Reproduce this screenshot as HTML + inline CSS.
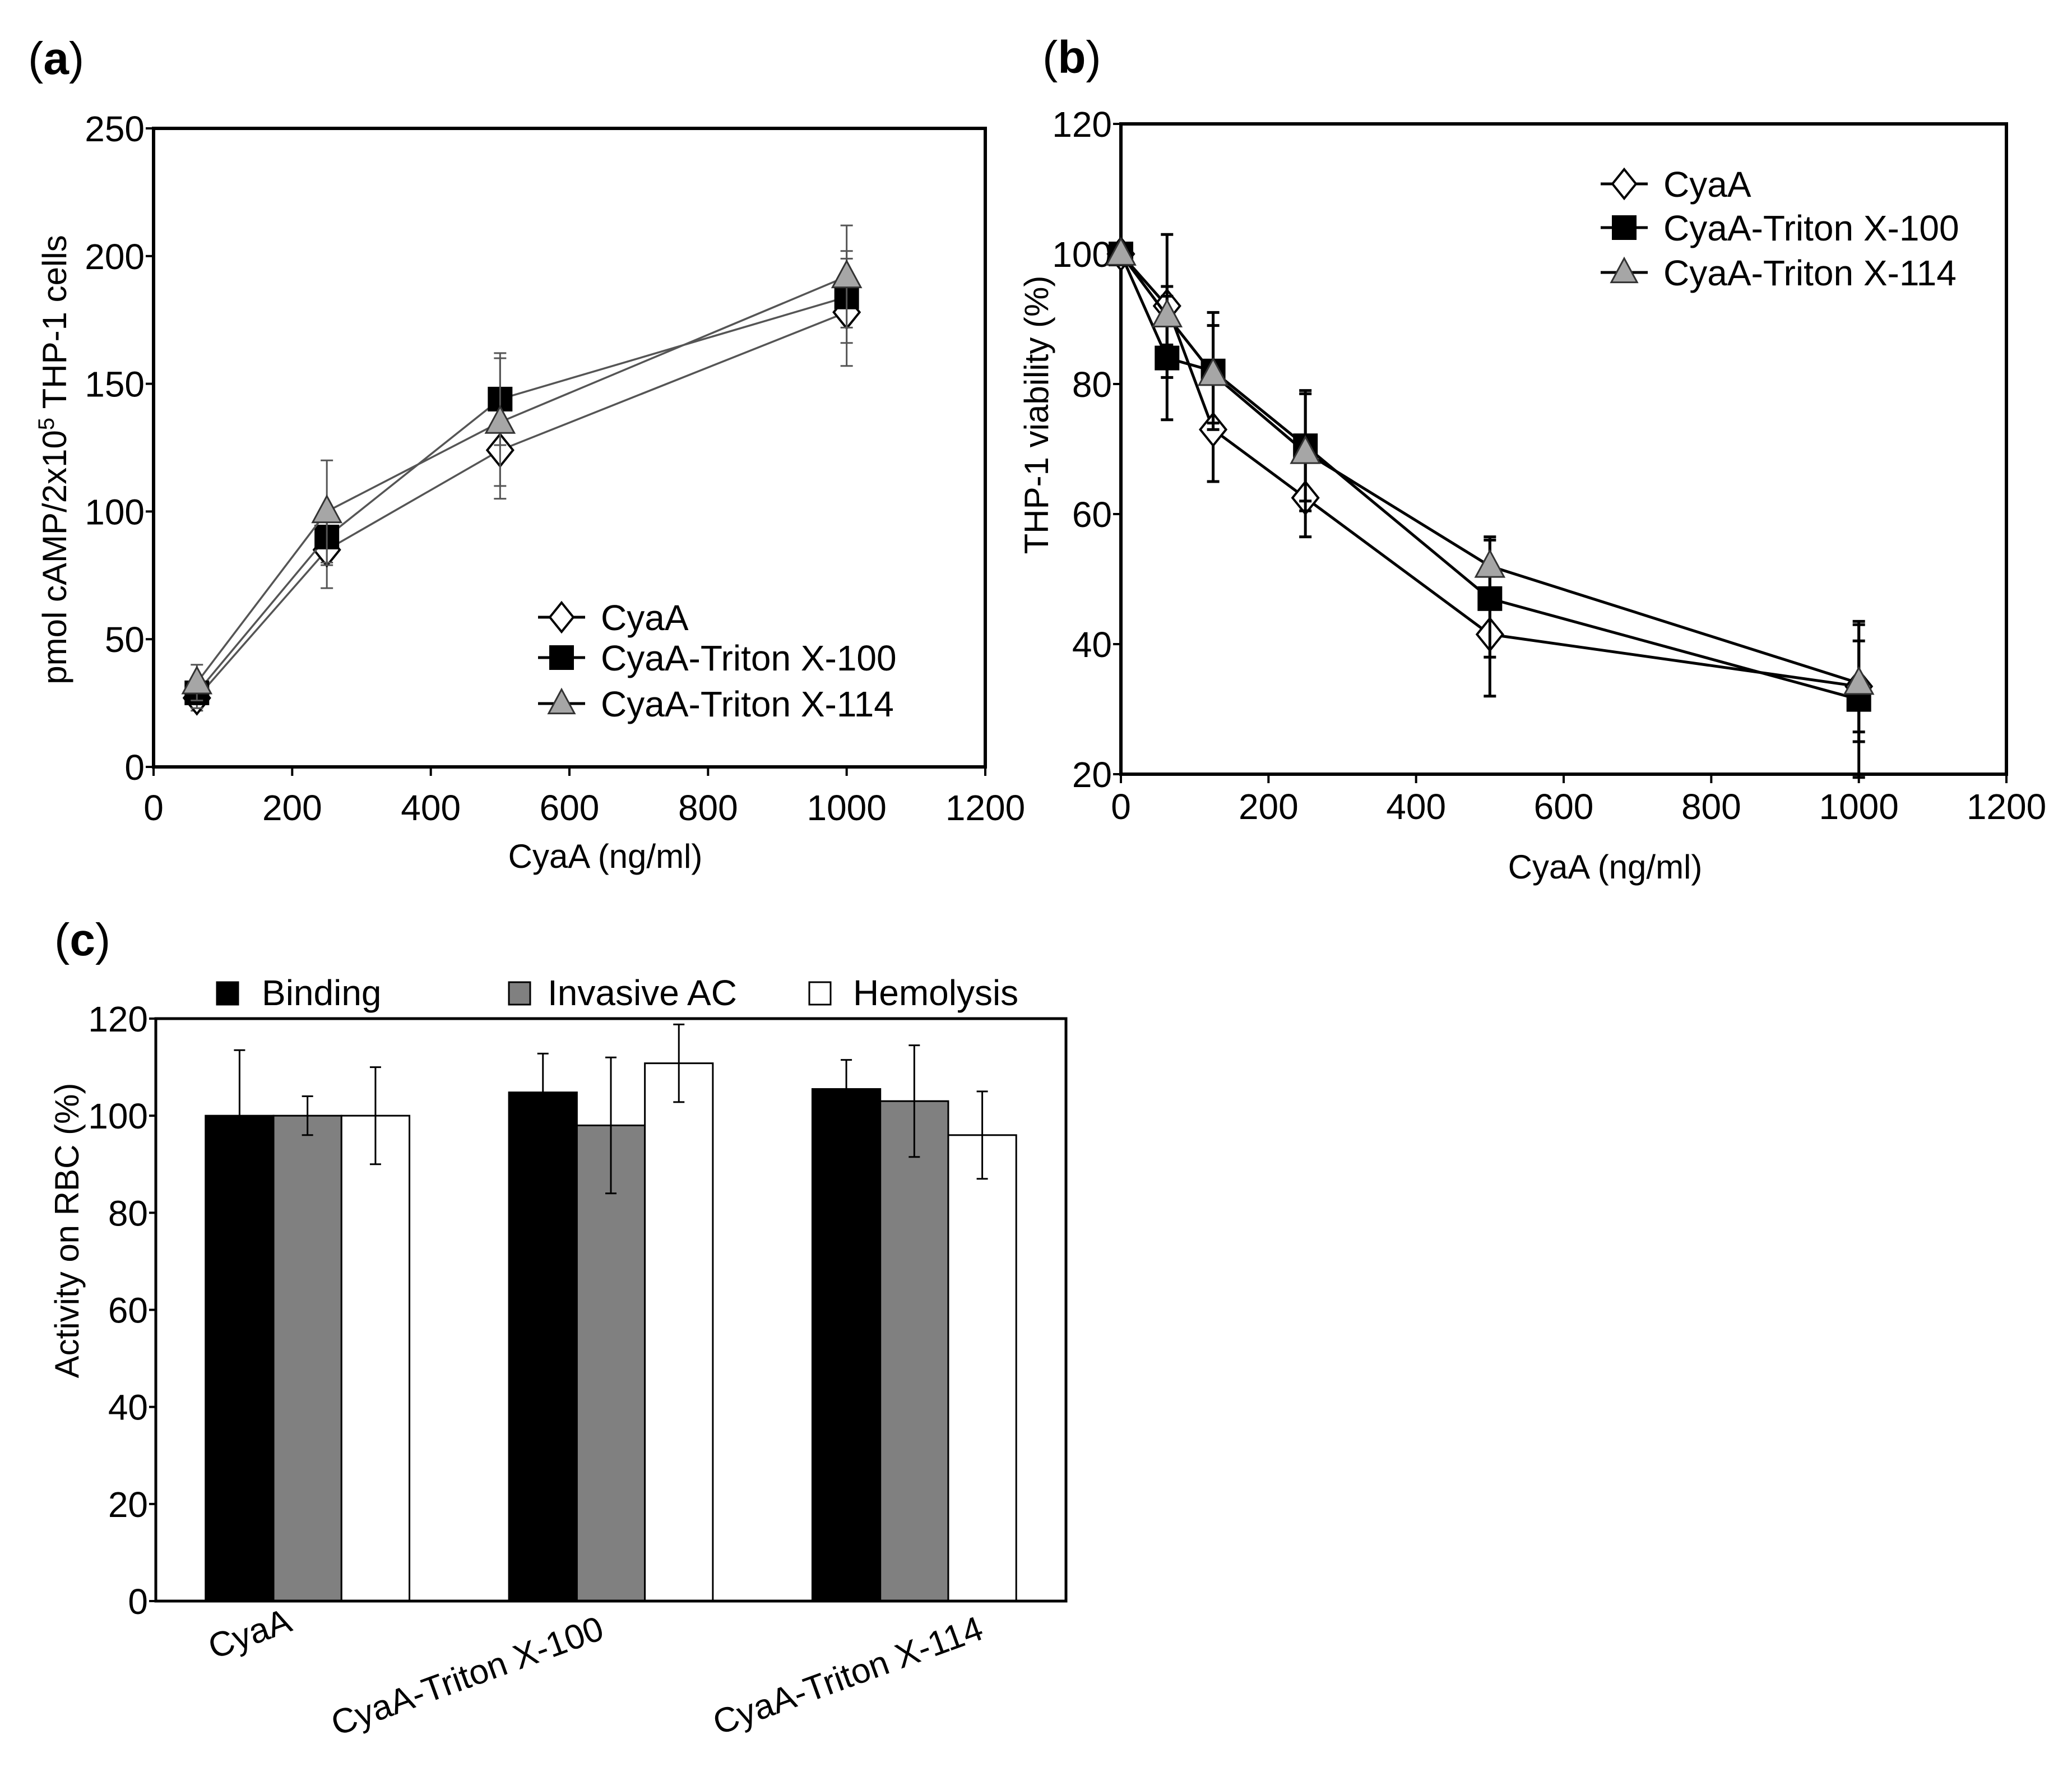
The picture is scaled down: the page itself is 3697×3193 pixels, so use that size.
<!DOCTYPE html>
<html><head><meta charset="utf-8">
<style>html,body{margin:0;padding:0;background:#fff}svg{display:block}text{font-family:"Liberation Sans",Arial,sans-serif;fill:#000}</style>
</head><body>
<svg id="fig" width="3697" height="3193" viewBox="0 0 3697 3193" xmlns="http://www.w3.org/2000/svg">
<rect width="3697" height="3193" fill="#fff"/>
<g id="pa"></g>
<g id="pb"></g>
<g id="pc"></g>
</svg>
<script>
// Panel a data
const aX = [62.5, 250, 500, 1000];
const aCyaA = [27, 85, 124, 178];
const aCyaAErr = [5, 15, 19, 21];
const aTX100 = [29, 90, 144, 184];
const aTX100Err = [6, 11, 18, 18];
const aTX114 = [33, 100, 135, 192];
const aTX114Err = [7, 20, 25, 20];
const aXTicks = [0, 200, 400, 600, 800, 1000, 1200];
const aYTicks = [0, 50, 100, 150, 200, 250];
// Panel b data
const bX = [0, 62.5, 125, 250, 500, 1000];
const bCyaA = [100, 92, 73, 62.5, 41.5, 33.5];
const bCyaAErr = [0, 11, 8, 6, 9.5, 7];
const bTX100 = [100, 84, 82, 70.5, 47, 31.5];
const bTX100Err = [0, 9.5, 9, 8.5, 9, 12];
const bTX114 = [100, 90.5, 81.5, 69.5, 52, 34];
const bTX114Err = [0, 4.5, 7.5, 9, 4.5, 9];
const bXTicks = [0, 200, 400, 600, 800, 1000, 1200];
const bYTicks = [20, 40, 60, 80, 100, 120];
// Panel c data
const cCats = ["CyaA", "CyaA-Triton X-100", "CyaA-Triton X-114"];
const cBinding = [100, 104.8, 105.5];
const cBindingErr = [13.5, 8, 6];
const cInvasive = [100, 98, 103];
const cInvasiveErr = [4, 14, 11.5];
const cHemolysis = [100, 110.8, 96];
const cHemolysisErr = [10, 8, 9];
const cYTicks = [0, 20, 40, 60, 80, 100, 120];

const NS = "http://www.w3.org/2000/svg";
function mk(parent, tag, attrs, txt) {
  const e = document.createElementNS(NS, tag);
  for (const k in attrs) e.setAttribute(k, attrs[k]);
  if (txt !== undefined) e.textContent = txt;
  parent.appendChild(e);
  return e;
}
function scale(d0, d1, r0, r1) { return v => r0 + (v - d0) / (d1 - d0) * (r1 - r0); }

function marker(g, type, x, y, s, name) {
  let e;
  if (type === 'diamond') {
    e = mk(g, 'polygon', {points: `${x},${y-s*0.62} ${x+s*0.5},${y} ${x},${y+s*0.62} ${x-s*0.5},${y}`, fill: '#fff', stroke: '#000', 'stroke-width': 4});
  } else if (type === 'square') {
    e = mk(g, 'rect', {x: x - s/2, y: y - s/2, width: s, height: s, fill: '#000'});
  } else {
    e = mk(g, 'polygon', {points: `${x},${y-s*0.6} ${x+s*0.55},${y+s*0.42} ${x-s*0.55},${y+s*0.42}`, fill: '#a6a6a6', stroke: '#333', 'stroke-width': 3});
  }
  
  
  return e;
}

function linePanel(g, o) {
  const sx = scale(0, 1200, o.L, o.R), sy = scale(o.y0, o.y1, o.B, o.T);
  const fs = 64;
  // y label
  const yl = mk(g, 'text', {x: 0, y: 0, 'font-size': 60, 'text-anchor': 'middle', transform: `translate(${o.ylx},${o.yly}) rotate(-90)`});
  
  
  if (o.ytitleHTML) { o.ytitleHTML(yl); } else { yl.textContent = o.ytitle; }
  const xl = mk(g, 'text', {x: o.xlx, y: o.xly, 'font-size': 60, 'text-anchor': 'middle'}, 'CyaA (ng/ml)');
  
  
  // ticks
  o.xt.forEach(t => {
    const x = sx(t);
    const tk = mk(g, 'line', {x1: x, x2: x, y1: o.B, y2: o.B + 16, stroke: '#000', 'stroke-width': 4});
    
    
    const tl = mk(g, 'text', {x: x, y: o.B + o.xtdy, 'font-size': fs, 'text-anchor': 'middle'}, String(t));
    
    
  });
  o.yt.forEach(t => {
    const y = sy(t);
    const tk = mk(g, 'line', {x1: o.L - 14, x2: o.L, y1: y, y2: y, stroke: '#000', 'stroke-width': 4});
    
    
    const tl = mk(g, 'text', {x: o.L - 16, y: y + 23, 'font-size': fs, 'text-anchor': 'end'}, String(t));
    
    
  });
  const fr = mk(g, 'rect', {x: o.L, y: o.T, width: o.R - o.L, height: o.B - o.T, fill: 'none', stroke: '#000', 'stroke-width': 6});
  
  
  // series
  o.series.forEach(s => {
    const sg = mk(g, 'g', {});
    
    
    s.vals.forEach((v, i) => {
      const x = sx(o.xs[i]);
      if (s.err[i] > 0) {
        const e = mk(sg, 'path', {d: `M${x},${sy(v - s.err[i])}V${sy(v + s.err[i])}M${x-11},${sy(v - s.err[i])}h22M${x-11},${sy(v + s.err[i])}h22`, stroke: o.errColor, 'stroke-width': o.errW, fill: 'none'});
        
        
      }
    });
    const pts = s.vals.map((v, i) => `${sx(o.xs[i])},${sy(v)}`).join(' ');
    const pl = mk(sg, 'polyline', {points: pts, fill: 'none', stroke: o.lineColor, 'stroke-width': o.lineW});
    
    
    s.vals.forEach((v, i) => marker(sg, s.type, sx(o.xs[i]), sy(v), s.type === 'square' ? 44 : 46, 'point-' + s.key));
  });
  // legend
  o.series.forEach((s, i) => {
    const y = o.legY[i];
    const lg = mk(g, 'g', {});
    
    
    const ln = mk(lg, 'line', {x1: o.legX, x2: o.legX + 84, y1: y, y2: y, stroke: '#000', 'stroke-width': 5});
    
    
    marker(lg, s.type, o.legX + 42, y, s.type === 'square' ? 44 : 42, 'legend-marker');
    const lt = mk(lg, 'text', {x: o.legX + 112, y: y + 23, 'font-size': 64}, s.label);
    
    
  });
  const pl = mk(g, 'text', {x: o.plx, y: o.ply, 'font-size': 82}, '(');
  
  
  const b = mk(pl, 'tspan', {'font-weight': 'bold'}, o.letter);
  mk(pl, 'tspan', {}, ')');
}

linePanel(document.getElementById('pa'), {
  L: 274, R: 1758, T: 229, B: 1368, y0: 0, y1: 250, xs: aX, xt: aXTicks, yt: aYTicks,
  ylx: 118, yly: 820, xlx: 1080, xly: 1548, xtdy: 95,
  ytitleHTML: (t) => { mk(t, 'tspan', {}, 'pmol cAMP/2x10'); mk(t, 'tspan', {'font-size': 40, dy: -22}, '5'); mk(t, 'tspan', {dy: 22}, ' THP-1 cells'); },
  lineColor: '#555', lineW: 3.5, errColor: '#555', errW: 3,
  series: [
    {key: 'cyaa', type: 'diamond', vals: aCyaA, err: aCyaAErr, label: 'CyaA'},
    {key: 'triton-x100', type: 'square', vals: aTX100, err: aTX100Err, label: 'CyaA-Triton X-100'},
    {key: 'triton-x114', type: 'triangle', vals: aTX114, err: aTX114Err, label: 'CyaA-Triton X-114'}
  ],
  legX: 960, legY: [1101, 1173, 1255], plx: 50, ply: 132, letter: 'a'
});
linePanel(document.getElementById('pb'), {
  L: 2000, R: 3580, T: 221, B: 1381, y0: 20, y1: 120, xs: bX, xt: bXTicks, yt: bYTicks,
  ylx: 1870, yly: 740, xlx: 2864, xly: 1567, xtdy: 80, ytitle: 'THP-1 viability (%)',
  lineColor: '#000', lineW: 5, errColor: '#000', errW: 5,
  series: [
    {key: 'cyaa', type: 'diamond', vals: bCyaA, err: bCyaAErr, label: 'CyaA'},
    {key: 'triton-x100', type: 'square', vals: bTX100, err: bTX100Err, label: 'CyaA-Triton X-100'},
    {key: 'triton-x114', type: 'triangle', vals: bTX114, err: bTX114Err, label: 'CyaA-Triton X-114'}
  ],
  legX: 2856, legY: [328, 406, 486], plx: 1860, ply: 130, letter: 'b'
});

// Panel c
(function(){
  const g = document.getElementById('pc');
  const L = 278, R = 1902, T = 1817, B = 2856;
  const sy = scale(0, 120, B, T);
  const band = (R - L) / cCats.length, bw = band * 0.224;
  const series = [
    {key: 'binding', vals: cBinding, err: cBindingErr, fill: '#000', label: 'Binding'},
    {key: 'invasive-ac', vals: cInvasive, err: cInvasiveErr, fill: '#808080', label: 'Invasive AC'},
    {key: 'hemolysis', vals: cHemolysis, err: cHemolysisErr, fill: '#fff', label: 'Hemolysis'}
  ];
  cYTicks.forEach(t => {
    const y = sy(t);
    const tk = mk(g, 'line', {x1: L - 12, x2: L, y1: y, y2: y, stroke: '#000', 'stroke-width': 4});
    
    
    const tl = mk(g, 'text', {x: L - 14, y: y + 23, 'font-size': 64, 'text-anchor': 'end'}, String(t));
    
    
  });
  cCats.forEach((c, ci) => {
    const cx = L + band * (ci + 0.5);
    series.forEach((s, si) => {
      const x = cx + (si - 1.5) * bw;
      const v = s.vals[ci];
      const r = mk(g, 'rect', {x: x, y: sy(v), width: bw, height: B - sy(v), fill: s.fill, stroke: '#000', 'stroke-width': 3});
      
      
      const ex = x + bw / 2;
      const e = mk(g, 'path', {d: `M${ex},${sy(v - s.err[ci])}V${sy(v + s.err[ci])}M${ex-10},${sy(v - s.err[ci])}h20M${ex-10},${sy(v + s.err[ci])}h20`, stroke: '#000', 'stroke-width': 3, fill: 'none'});
      
      
    });
    const ax = cx + (ci === 0 ? -24 : 0) + 0;
    const tl = mk(g, 'text', {x: 0, y: 0, 'font-size': 62, 'text-anchor': 'end', transform: `translate(${[524,1081,1758][ci]},${[2908,2922,2922][ci]}) rotate(-20)`}, c);
    
    
  });
  const fr = mk(g, 'rect', {x: L, y: T, width: R - L, height: B - T, fill: 'none', stroke: '#000', 'stroke-width': 5});
  
  
  const yl = mk(g, 'text', {x: 0, y: 0, 'font-size': 60, 'text-anchor': 'middle', transform: `translate(${140},${2195}) rotate(-90)`}, 'Activity on RBC (%)');
  
  
  const legXs = [406, 927, 1463], legTx = [467, 977, 1522];
  series.forEach((s, i) => {
    const lg = mk(g, 'g', {});
    
    
    const sq = mk(lg, 'rect', {x: legXs[i] - 19, y: 1752, width: 38, height: 40, fill: s.fill, stroke: '#000', 'stroke-width': 3});
    
    
    const lt = mk(lg, 'text', {x: legTx[i], y: 1793, 'font-size': 64}, s.label);
    
    
  });
  const pl = mk(g, 'text', {x: 97, y: 1704, 'font-size': 82}, '(');
  
  
  mk(pl, 'tspan', {'font-weight': 'bold'}, 'c');
  mk(pl, 'tspan', {}, ')');
})();
</script>
</body></html>
